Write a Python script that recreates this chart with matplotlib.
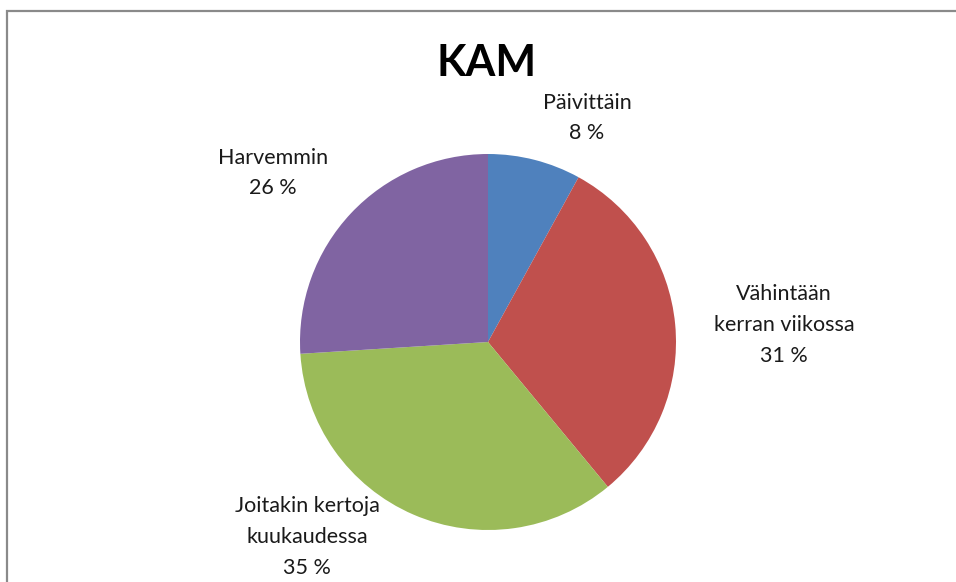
import matplotlib.pyplot as plt
from matplotlib.patches import Rectangle

# Data
categories = ['Päivittäin', 'Vähintään\nkerran viikossa', 'Joitakin kertoja\nkuukaudessa', 'Harvemmin']
shares = [8, 31, 35, 26]
colors = ['#4F81BD', '#C0504D', '#9BBB59', '#8064A2']

# label anchor points in pixels (x, y from top)
label_pos = [(587, 118), (784, 325), (307, 537), (273, 173)]

W, H = 956, 582
plt.rcParams['font.family'] = ['Lato', 'DejaVu Sans']

fig = plt.figure(figsize=(W / 100, H / 100), dpi=100)
ax = fig.add_axes([0, 0, 1, 1])
ax.set_xlim(0, W)
ax.set_ylim(0, H)
ax.set_aspect('equal')
ax.axis('off')

# chart frame (runs off the right and bottom edges)
ax.add_patch(Rectangle((7.5, -20), W + 20, H - 10.5 + 20, fill=False,
                       edgecolor='#8a8a8a', linewidth=1.6))

ax.pie(shares, colors=colors, startangle=90, counterclock=False,
       center=(488, H - 342), radius=188,
       wedgeprops=dict(linewidth=0))
ax.set_xlim(0, W)
ax.set_ylim(0, H)

for cat, val, (x, y) in zip(categories, shares, label_pos):
    ax.text(x, H - y, f'{cat}\n{val} %', ha='center', va='center',
            fontsize=15.5, color='#1a1a1a', linespacing=1.68)

ax.text(487, H - 63, 'KAM', ha='center', va='center', fontsize=31,
        fontweight='bold', color='black')

fig.savefig('out.png', dpi=100)
